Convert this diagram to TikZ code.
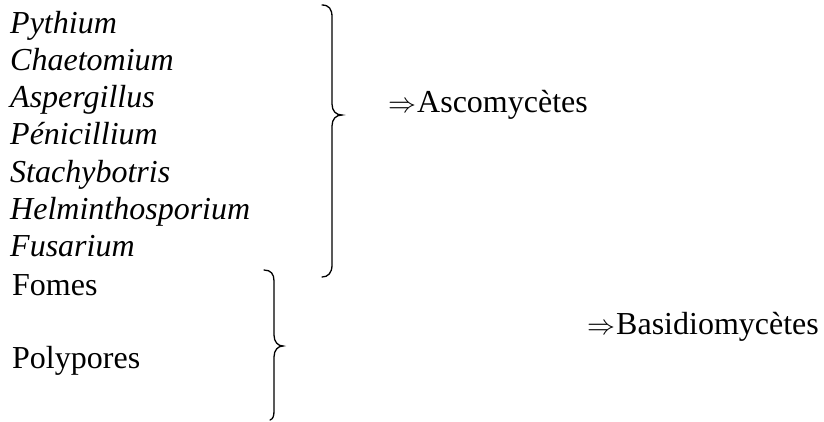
\documentclass[tikz,border=0pt]{standalone}
\usepackage{fontspec}
\setmainfont{Liberation Serif}
\newcommand{\impl}{\resizebox{28pt}{!}{$\Rightarrow$}\hspace{1pt}}
\begin{document}
\begin{tikzpicture}[x=1pt,y=-1pt,
  genus/.style={anchor=base west,inner sep=0pt,font=\fontsize{32}{36}\selectfont\itshape},
  plain/.style={anchor=base west,inner sep=0pt,font=\fontsize{32}{36}\selectfont},
  bracepath/.style={draw,line width=1.3pt,line cap=round}]
\useasboundingbox (0,0) rectangle (824,421);
% Ascomycetes group
\node[genus] (g1) at (10,33) {Pythium};
\node[genus] (g2) at (10,70.3) {Chaetomium};
\node[genus] (g3) at (10,107.6) {Aspergillus};
\node[genus] (g4) at (10,144.9) {Pénicillium};
\node[genus] (g5) at (10,182.2) {Stachybotris};
\node[genus] (g6) at (10,219.5) {Helminthosporium};
\node[genus] (g7) at (10,256.8) {Fusarium};
% Basidiomycetes group
\node[plain] (b1) at (12,295) {Fomes};
\node[plain] (b2) at (12,368) {Polypores};
% Braces
\coordinate (t1) at (322,5);
\coordinate (m1) at (342,115);
\coordinate (e1) at (322,277);
\path[bracepath] (t1) .. controls (329,5) and (332,9) .. (332,17)
  -- (332,104) .. controls (332,111) and (336,115) .. (m1)
  .. controls (336,115) and (332,119) .. (332,126)
  -- (332,265) .. controls (332,273) and (328,277) .. (e1);
\coordinate (t2) at (264,270);
\coordinate (m2) at (283,346);
\coordinate (e2) at (270,420);
\path[bracepath] (t2) .. controls (271,270) and (274,274) .. (274,281)
  -- (274,335) .. controls (274,342) and (278,346) .. (m2)
  .. controls (278,346) and (274,350) .. (274,357)
  -- (274,411) .. controls (274,416) and (273,419) .. (e2);
% Results
\node[plain] (r1) at (388,112) {\impl Ascomycètes};
\node[plain] (r2) at (587,334) {\impl Basidiomycètes};
\end{tikzpicture}
\end{document}
